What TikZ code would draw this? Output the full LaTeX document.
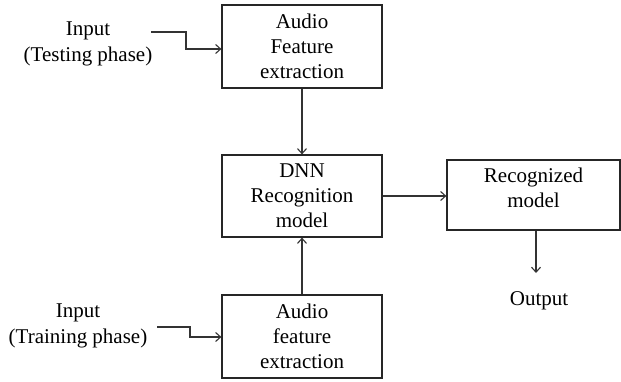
\documentclass[tikz,border=0pt]{standalone}
\usepackage{fontspec}
\setmainfont{Liberation Serif}
\usetikzlibrary{arrows.meta}
\begin{document}
\begin{tikzpicture}[x=1pt,y=-1pt,
  box/.style={draw=black!85, line width=1.2pt, inner sep=0pt, align=center,
    font=\fontsize{21}{25}\selectfont},
  lbl/.style={inner sep=0pt, align=center, font=\fontsize{21}{26}\selectfont},
  arr/.style={draw=black!80, line width=1.1pt, -{Straight Barb[length=5pt,width=9pt,line width=1.1pt]}}]
\useasboundingbox (0,0) rectangle (621,381);
\fill[white] (0,0) rectangle (621,381);
\node[box, minimum width=160pt, minimum height=83pt] (b1) at (302,46.5) {Audio\\Feature\\extraction};
\node[box, minimum width=160pt, minimum height=82pt] (b2) at (302,196) {DNN\\Recognition\\model};
\node[box, minimum width=173pt, minimum height=70pt] (b3) at (533.5,195) {};
\node[lbl, font=\fontsize{21}{25}\selectfont, yshift=7.5pt] (b3t) at (b3.center) {Recognized\\model};
\node[box, minimum width=160pt, minimum height=83pt] (b4) at (302,336.5) {Audio\\feature\\extraction};
\node[lbl] (in1) at (88,44) {Input\\(Testing phase)};
\node[lbl] (in2) at (78,326) {Input\\(Training phase)};
\node[lbl, anchor=base] (out) at (539,305) {Output};
\coordinate (t0) at (151,32);
\coordinate (t1) at (186,49);
\coordinate (r0) at (157,327);
\coordinate (r1) at (190,337);
\coordinate (o1) at (536,273);
\draw[arr] (t0) -- (t0 -| t1) -- (t1) -- (t1 -| b1.west);
\draw[arr] (r0) -- (r0 -| r1) -- (r1) -- (r1 -| b4.west);
\draw[arr] (b1.south) -- (b2.north);
\draw[arr] (b4.north) -- (b2.south);
\draw[arr] (b2.east) -- (b3.west |- b2.east);
\draw[arr] (b3.south -| o1) -- (o1);
\end{tikzpicture}
\end{document}
